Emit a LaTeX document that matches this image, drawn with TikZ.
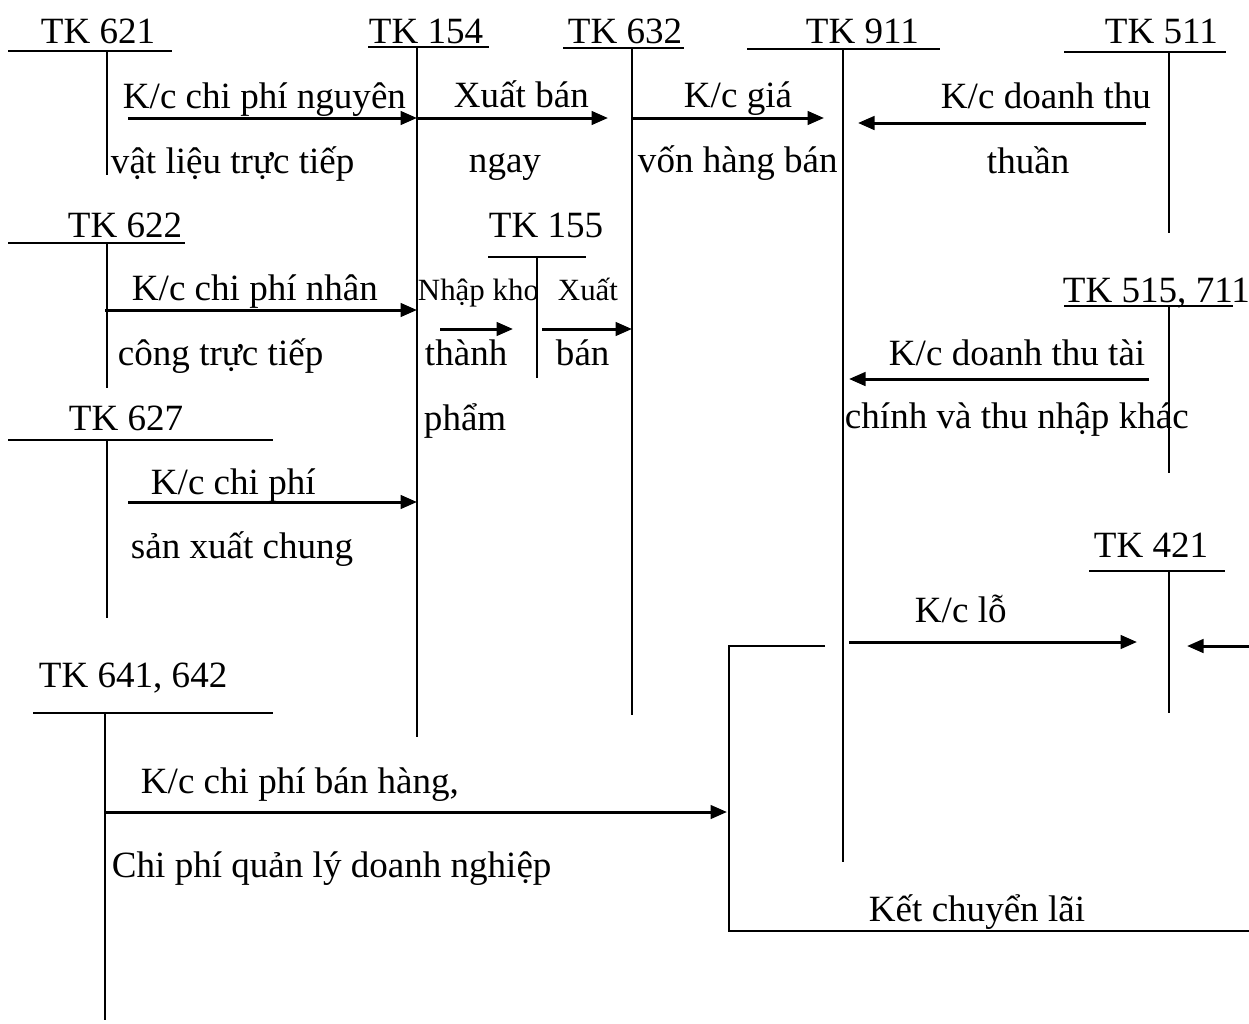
\documentclass[tikz,border=0pt]{standalone}
\usepackage{fontspec}
\setmainfont{Liberation Serif}
\usetikzlibrary{arrows.meta}
\tikzset{
  every picture/.style={line width=0.65pt},
  acct/.style={draw=black, line width=0.65pt},
  lbl/.style={anchor=base west, inner sep=0pt, font=\fontsize{12.35}{14}\selectfont},
  slbl/.style={lbl, font=\fontsize{10.3}{12}\selectfont},
  flow/.style={-{Triangle[length=5.5pt,width=4.5pt]}, line width=1pt},
}

\begin{document}
\begin{tikzpicture}[x=0.3333pt,y=-0.3333pt]
\useasboundingbox (0,0) rectangle (1249,1023);

% ================================================== T-accounts
% name / line from / line to / line y / stem x / stem end
\foreach \nm/\xa/\xb/\yy/\xv/\ye in {621/8/172/51/107/175, 154/368/489/47/417/737,
    632/563/684/48/632/715, 911/747/940/49/843/862, 511/1064/1226/52/1169/233,
    622/8/185/243/107/388, 155/488/586/257/537/378, 515/1064/1233/306/1169/473,
    627/8/273/440/107/618, 421/1089/1225/571/1169/713, 641/33/273/713/105/1020}{
  \draw[acct] (\xa,\yy) -- (\xb,\yy);
  \coordinate (t\nm) at (\xv,\yy);
  \coordinate (b\nm) at (\xv,\ye);
  \draw[acct] (t\nm) -- (b\nm);
}

\node[lbl] (l621) at (40,44)   {TK 621};
\node[lbl] (l154) at (368,44)  {TK 154};
\node[lbl] (l632) at (567,44)  {TK 632};
\node[lbl] (l911) at (805,44)  {TK 911};
\node[lbl] (l511) at (1104,44) {TK 511};
\node[lbl] (l622) at (67,237)  {TK 622};
\node[lbl] (l155) at (488,237) {TK 155};
\node[lbl] (l515) at (1062,302) {TK 515, 711};
\node[lbl] (l627) at (68,430)  {TK 627};
\node[lbl] (l421) at (1093,557) {TK 421};
\node[lbl] (l641) at (38,687)  {TK 641, 642};

% ================================================== transfers
\coordinate (s1) at (128,118);
\coordinate (s2) at (417,118);   \coordinate (e2) at (608,118);
\coordinate (s3) at (632,118);   \coordinate (e3) at (824,118);
\coordinate (s4) at (1146,123);  \coordinate (e4) at (858,123);
\coordinate (s5) at (105,310);
\coordinate (s6) at (440,329);   \coordinate (e6) at (513,329);
\coordinate (s7) at (542,329);
\coordinate (s8) at (128,502);
\coordinate (s9) at (1149,379);  \coordinate (e9) at (849,379);
\coordinate (s10) at (849,642);  \coordinate (e10) at (1137,642);
\coordinate (s11) at (105,812);
\coordinate (s12) at (1249,646); \coordinate (e12) at (1187,646);

\draw[flow] (s1) -- (s1 -| t154);
\draw[flow] (s2) -- (e2);
\draw[flow] (s3) -- (e3);
\draw[flow] (s4) -- (e4);
\draw[flow] (s5) -- (s5 -| t154);
\draw[flow] (s6) -- (e6);
\draw[flow] (s7) -- (s7 -| t632);
\draw[flow] (s8) -- (s8 -| t154);
\draw[flow] (s9) -- (e9);
\draw[flow] (s10) -- (e10);
\draw[flow] (s11) -- (727,812);
\draw[flow] (s12) -- (e12);

% profit carried over
\coordinate (k1) at (825,646);
\coordinate (k2) at (729,931);
\coordinate (k3) at (1249,931);
\draw[acct] (k1) -| (k2) -- (k3);

% ================================================== labels
\node[lbl] (n1a) at (122,108) {K/c chi phí nguyên};
\node[lbl] (n1b) at (110,173) {vật liệu trực tiếp};
\node[lbl] (n2a) at (453,107) {Xuất bán};
\node[lbl] (n2b) at (468,172) {ngay};
\node[lbl] (n3a) at (683,107) {K/c giá};
\node[lbl] (n3b) at (637,172) {vốn hàng bán};
\node[lbl] (n4a) at (940,108) {K/c doanh thu};
\node[lbl] (n4b) at (986,173) {thuần};
\node[lbl] (n5a) at (131,300) {K/c chi phí nhân};
\node[lbl] (n5b) at (117,365) {công trực tiếp};
\node[slbl] (n6a) at (417,300) {Nhập kho};
\node[lbl] (n6b) at (424,365) {thành};
\node[lbl] (n6c) at (423,430) {phẩm};
\node[slbl] (n7a) at (557,300) {Xuất};
\node[lbl] (n7b) at (555,365) {bán};
\node[lbl] (n8a) at (150,494) {K/c chi phí};
\node[lbl] (n8b) at (130,558) {sản xuất chung};
\node[lbl] (n9a) at (888,365) {K/c doanh thu tài};
\node[lbl] (n9b) at (844,428) {chính và thu nhập khác};
\node[lbl] (n10) at (914,622) {K/c lỗ};
\node[lbl] (n11a) at (140,793) {K/c chi phí bán hàng,};
\node[lbl] (n11b) at (111,877) {Chi phí quản lý doanh nghiệp};
\node[lbl] (n12) at (868,921) {Kết chuyển lãi};

\end{tikzpicture}
\end{document}
